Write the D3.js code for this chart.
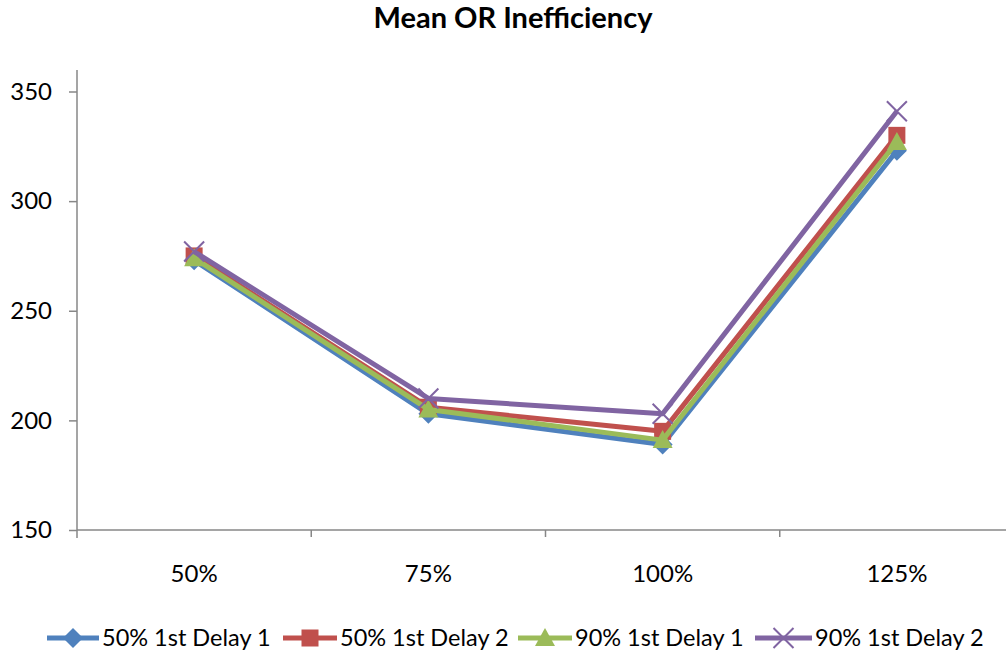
<!DOCTYPE html>
<html>
<head>
<meta charset="utf-8">
<script src="https://cdn.jsdelivr.net/npm/d3@7"></script>
<style>
  html, body { margin: 0; padding: 0; background: #fff; }
  svg { display: block; font-family: Lato, "Open Sans", sans-serif; }
</style>
</head>
<body>
<svg id="chart" width="1006" height="655"></svg>
<script>
// Load levels on the x axis
const categories = ["50%", "75%", "100%", "125%"];
const yTicks = [150, 200, 250, 300, 350];

// Mean OR inefficiency per scenario
const delay50_1 = [273, 203, 189, 323];
const delay50_2 = [275, 206, 195, 330];
const delay90_1 = [274, 205, 191, 327];
const delay90_2 = [277, 210, 203, 341];

const seriesNames = ["50% 1st Delay 1", "50% 1st Delay 2", "90% 1st Delay 1", "90% 1st Delay 2"];
const seriesColors = ["#4F81BD", "#C0504D", "#9BBB59", "#8064A2"];
const seriesShapes = ["diamond", "square", "triangle", "x"];
const seriesValues = [delay50_1, delay50_2, delay90_1, delay90_2];

const series = seriesNames.map((name, i) => ({
  name, color: seriesColors[i], shape: seriesShapes[i], values: seriesValues[i]
}));

const svg = d3.select("#chart");
const plotLeft = 77, plotRight = 1014, plotTop = 70, plotBottom = 530;

const x = d3.scaleBand().domain(categories).range([plotLeft, plotRight]);
const xc = d => x(d) + x.bandwidth() / 2;
const y = d3.scaleLinear().domain([150, 350]).range([plotBottom, 91.5]);

// Title
svg.append("text")
  .attr("x", 513).attr("y", 28)
  .attr("text-anchor", "middle")
  .attr("font-size", 29).attr("font-weight", "bold")
  .attr("fill", "#000")
  .text("Mean OR Inefficiency");

const axisColor = "#878787";

// Y axis
const yAxis = svg.append("g").attr("transform", `translate(${plotLeft},0)`)
  .call(d3.axisLeft(y).tickValues(yTicks).tickSize(8).tickPadding(17));
yAxis.select(".domain").remove();
yAxis.append("line").attr("x1", 0).attr("x2", 0).attr("y1", plotTop).attr("y2", plotBottom + 8)
  .attr("stroke", axisColor).attr("stroke-width", 1.5);
yAxis.selectAll(".tick line").attr("stroke", axisColor).attr("stroke-width", 1.5);
yAxis.selectAll(".tick text").attr("font-size", 24).attr("fill", "#000")
  .attr("font-family", "Lato, 'Open Sans', sans-serif");

// X axis
const xg = svg.append("g");
xg.append("line").attr("x1", plotLeft).attr("x2", 1006).attr("y1", plotBottom).attr("y2", plotBottom)
  .attr("stroke", axisColor).attr("stroke-width", 1.5);
const boundaries = categories.map(c => x(c)).concat([x.range()[1]]);
xg.selectAll("line.xt").data(boundaries.slice(1)).enter().append("line")
  .attr("class", "xt")
  .attr("x1", d => d).attr("x2", d => d).attr("y1", plotBottom).attr("y2", plotBottom + 7)
  .attr("stroke", axisColor).attr("stroke-width", 1.5);
xg.selectAll("text").data(categories).enter().append("text")
  .attr("x", d => xc(d)).attr("y", 582)
  .attr("text-anchor", "middle").attr("font-size", 24).attr("fill", "#000")
  .text(d => d);

// Marker drawing
function drawMarker(g, shape, color, size) {
  const s = size / 2;
  if (shape === "diamond") {
    g.append("path").attr("d", `M0,${-s}L${s},0L0,${s}L${-s},0Z`).attr("fill", color);
  } else if (shape === "square") {
    g.append("rect").attr("x", -s * 0.85).attr("y", -s * 0.85)
      .attr("width", s * 1.7).attr("height", s * 1.7).attr("fill", color);
  } else if (shape === "triangle") {
    g.append("path").attr("d", `M0,${-s}L${s},${s * 0.8}L${-s},${s * 0.8}Z`).attr("fill", color);
  } else {
    g.append("path").attr("d", `M${-s},${-s}L${s},${s}M${s},${-s}L${-s},${s}`)
      .attr("stroke", color).attr("stroke-width", 2).attr("fill", "none");
  }
}

const line = d3.line().x((d, i) => xc(categories[i])).y(d => y(d));

series.forEach(s => {
  const g = svg.append("g");
  g.append("path").datum(s.values)
    .attr("d", line).attr("fill", "none")
    .attr("stroke", s.color).attr("stroke-width", 5)
    .attr("stroke-linejoin", "round");
  s.values.forEach((v, i) => {
    const m = g.append("g").attr("transform", `translate(${xc(categories[i])},${y(v)})`);
    drawMarker(m, s.shape, s.color, 20);
  });
});

// Legend
const legendItems = [
  { lx: 47, tx: 102 },
  { lx: 283, tx: 340 },
  { lx: 518, tx: 575 },
  { lx: 755, tx: 815 }
];
const ly = 638;
series.forEach((s, i) => {
  const it = legendItems[i];
  const g = svg.append("g");
  g.append("line").attr("x1", it.lx).attr("x2", it.tx - 3).attr("y1", ly).attr("y2", ly)
    .attr("stroke", s.color).attr("stroke-width", 5);
  const m = g.append("g").attr("transform", `translate(${(it.lx + it.tx - 3) / 2},${ly})`);
  drawMarker(m, s.shape, s.color, 20);
  g.append("text").attr("x", it.tx).attr("y", ly + 8)
    .attr("font-size", 23.5).attr("fill", "#000").text(s.name);
});
</script>
</body>
</html>
